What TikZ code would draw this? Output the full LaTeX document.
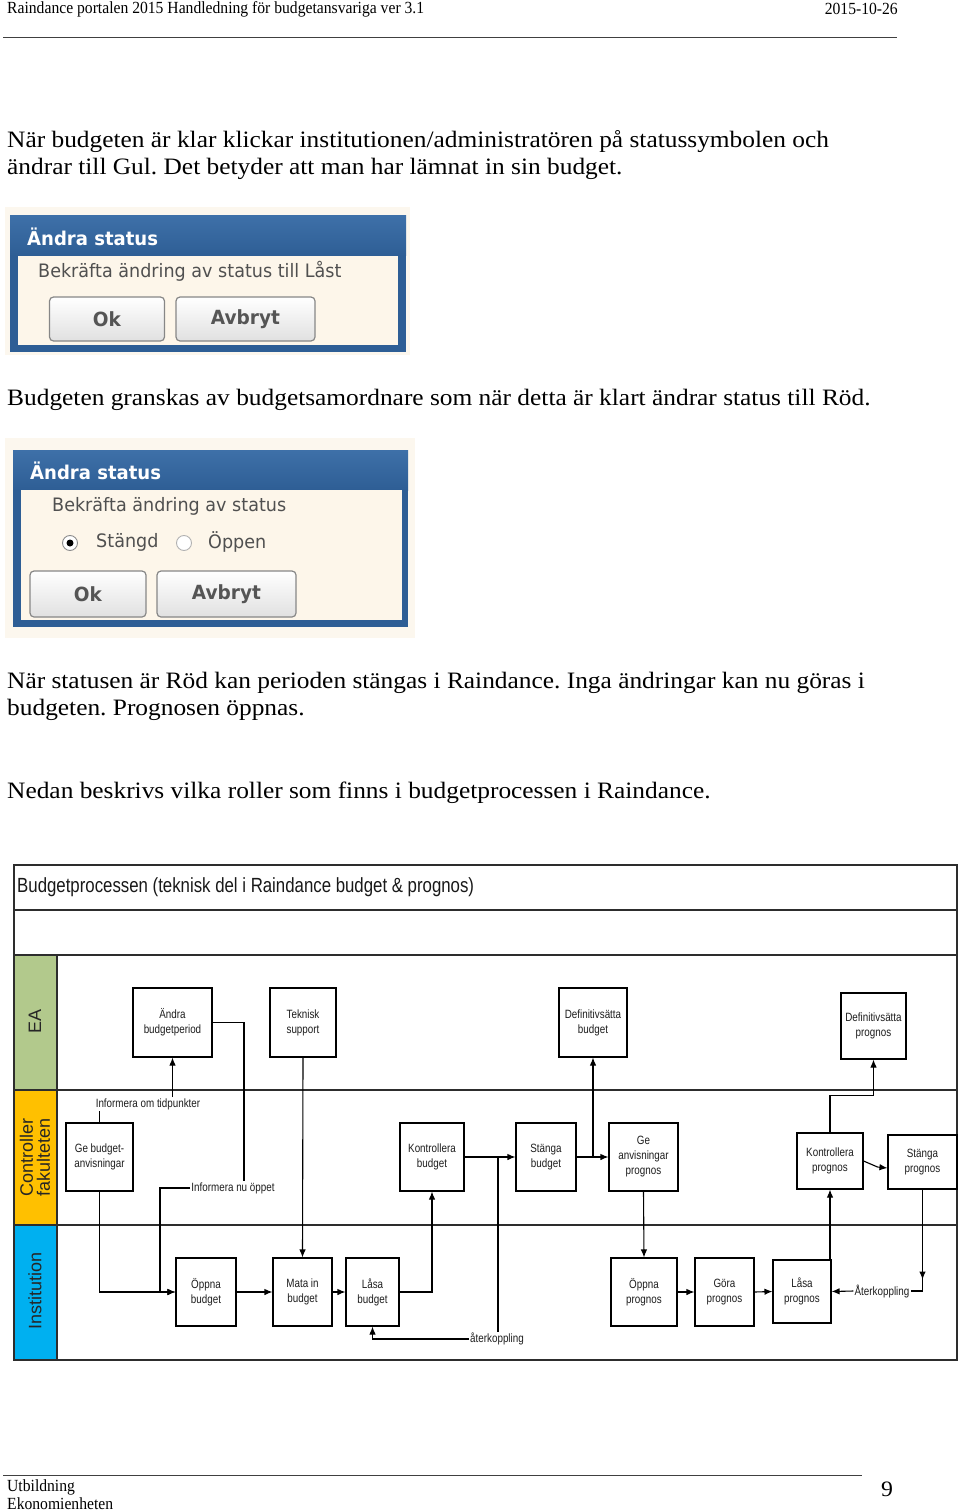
\documentclass[tikz,border=0pt]{standalone}
\usepackage{fontspec}
\setmainfont{Liberation Serif}
\newfontfamily\bodyserif[FakeStretch=1.08]{Liberation Serif}
\newfontfamily\hdrserif[FakeStretch=0.92]{Liberation Serif}
\newfontfamily\narrowsans[FakeStretch=0.82]{Liberation Sans}
\newfontfamily\lanesans{Liberation Sans}
\newfontfamily\dlgsans[FakeStretch=0.95]{DejaVu Sans}
\newfontfamily\dlgsansb[FakeStretch=0.95]{DejaVu Sans}
\usetikzlibrary{arrows.meta,calc}
\definecolor{dlgblue}{RGB}{46,94,149}
\definecolor{dlgblueL}{RGB}{62,112,168}
\definecolor{beige}{RGB}{253,246,234}
\definecolor{beigeout}{RGB}{252,247,238}
\definecolor{dlgtext}{RGB}{80,80,80}
\definecolor{btntext}{RGB}{85,85,85}
\definecolor{btnborder}{RGB}{135,135,135}
\definecolor{laneline}{RGB}{45,45,45}
\definecolor{eagreen}{RGB}{178,201,140}
\definecolor{ctlyellow}{RGB}{255,192,0}
\definecolor{instblue}{RGB}{0,176,240}
\definecolor{boxtext}{RGB}{30,30,30}
\tikzset{
  bodytxt/.style={anchor=west,inner sep=0pt,font=\bodyserif\fontsize{23.5}{27}\selectfont},
  box/.style={draw=black,line width=1.1pt,fill=white,inner sep=1pt,align=center,text=boxtext,font=\narrowsans\fontsize{12}{15}\selectfont},
  lbl/.style={fill=white,inner sep=1pt,text=boxtext,font=\narrowsans\fontsize{12}{15}\selectfont},
  conn/.style={draw=black,line width=1.1pt},
  arr/.style={-{Latex[length=8pt,width=6.5pt]}},
  lanebox/.style={draw=laneline,line width=1.4pt},
  lanetxt/.style={rotate=90,align=center,text=black!85,font=\lanesans\fontsize{18}{17}\selectfont},
  btn/.style={draw=btnborder,line width=1.2pt,rounded corners=4pt,top color=white,bottom color=black!12,text=btntext,font=\dlgsansb\bfseries\fontsize{19.5}{20}\selectfont},
  dlgtitle/.style={anchor=west,inner sep=0pt,text=white,font=\dlgsansb\bfseries\fontsize{19}{20}\selectfont},
  dlgline/.style={anchor=west,inner sep=0pt,text=dlgtext,font=\dlgsans\fontsize{18.5}{20}\selectfont},
  hdrtxt/.style={inner sep=0pt,font=\hdrserif\fontsize{17}{17}\selectfont}
}
\begin{document}
\frenchspacing
\begin{tikzpicture}[x=1pt,y=-1pt]
\useasboundingbox[fill=white] (0,0) rectangle (960,1511);

% header
\node[hdrtxt,anchor=west] (hdr) at (7,9) {Raindance portalen 2015 Handledning för budgetansvariga ver 3.1};
\node[hdrtxt,anchor=east] (hdate) at (898,9) {2015-10-26};
\draw[line width=1pt,black!75] (3,38) -- (897,38);

% paragraphs
\node[bodytxt] (p1) at (7,142) {När budgeten är klar klickar institutionen/administratören på statussymbolen och};
\node[bodytxt] (p2) at (7,169) {ändrar till Gul. Det betyder att man har lämnat in sin budget.};
\node[bodytxt] (p3) at (7,400) {Budgeten granskas av budgetsamordnare som när detta är klart ändrar status till Röd.};
\node[bodytxt] (p4) at (7,683) {När statusen är Röd kan perioden stängas i Raindance. Inga ändringar kan nu göras i};
\node[bodytxt] (p5) at (7,710) {budgeten. Prognosen öppnas.};
\node[bodytxt] (p6) at (7,793) {Nedan beskrivs vilka roller som finns i budgetprocessen i Raindance.};

% dialog 1
\fill[beigeout] (5,207) rectangle (410,355);
\fill[top color=dlgblueL,bottom color=dlgblue] (10,216) rectangle (406,256);
\fill[dlgblue] (10,256) rectangle (406,352);
\fill[beige] (18,256) rectangle (398,345);
\node[dlgtitle] (d1t) at (27,237) {Ändra status};
\node[dlgline] (d1l) at (38,271) {Bekräfta ändring av status till Låst};
\node[btn,minimum width=115pt,minimum height=44pt] (d1ok) at (107,319) {Ok};
\node[btn,minimum width=139pt,minimum height=44pt] (d1av) at (245.5,319) {Avbryt};

% dialog 2
\fill[beigeout] (5,438) rectangle (415,638);
\fill[top color=dlgblueL,bottom color=dlgblue] (13,450) rectangle (408,490);
\fill[dlgblue] (13,490) rectangle (408,627);
\fill[beige] (21,490) rectangle (402,620);
\node[dlgtitle] (d2t) at (30,471) {Ändra status};
\node[dlgline] (d2l) at (52,506) {Bekräfta ändring av status};
\draw[draw=black!45,fill=white,line width=0.9pt] (70,543) circle (7.5pt);
\fill[black] (70,543) circle (3.5pt);
\node[dlgline] (d2s) at (96,542) {Stängd};
\draw[draw=black!30,fill=white,line width=0.9pt] (184,543) circle (7.5pt);
\node[dlgline] (d2o) at (208,542) {Öppen};
\node[btn,minimum width=116pt,minimum height=46pt] (d2ok) at (88,594) {Ok};
\node[btn,minimum width=139pt,minimum height=46pt] (d2av) at (226.5,594) {Avbryt};

% swimlane frame
\fill[eagreen] (14,955) rectangle (57,1090);
\fill[ctlyellow] (14,1090) rectangle (57,1225);
\fill[instblue] (14,1225) rectangle (57,1360);
\draw[lanebox] (14,865) rectangle (957,1360);
\draw[lanebox] (14,910) -- (957,910);
\draw[lanebox] (14,955) -- (957,955);
\draw[lanebox] (14,1090) -- (957,1090);
\draw[lanebox] (14,1225) -- (957,1225);
\draw[lanebox] (57,955) -- (57,1360);
\node[anchor=west,inner sep=0pt,text=black!90,font=\narrowsans\fontsize{20.5}{22}\selectfont] (title) at (17,887) {Budgetprocessen (teknisk del i Raindance budget \& prognos)};
\node[lanetxt] (lea) at (35,1021) {EA};
\node[lanetxt] (lctl) at (35,1157) {Controller\\fakulteten};
\node[lanetxt] (linst) at (35,1291) {Institution};

% boxes
\node[box,minimum width=79pt,minimum height=69pt] (andra) at (172.5,1022.5) {Ändra\\budgetperiod};
\node[box,minimum width=66pt,minimum height=69pt] (teknisk) at (303,1022.5) {Teknisk\\support};
\node[box,minimum width=68pt,minimum height=69pt] (defbud) at (593,1022.5) {Definitivsätta\\budget};
\node[box,minimum width=65pt,minimum height=66pt] (defprog) at (873.5,1026) {Definitivsätta\\prognos};
\node[box,minimum width=67pt,minimum height=68pt] (gebud) at (99.5,1157) {Ge budget-\\anvisningar};
\node[box,minimum width=64pt,minimum height=68pt] (kontbud) at (432,1157) {Kontrollera\\budget};
\node[box,minimum width=60pt,minimum height=68pt] (stangbud) at (546,1157) {Stänga\\budget};
\node[box,minimum width=69pt,minimum height=68pt] (geprog) at (643.5,1157) {Ge\\anvisningar\\prognos};
\node[box,minimum width=66pt,minimum height=56pt] (kontprog) at (830,1161) {Kontrollera\\prognos};
\node[box,minimum width=69pt,minimum height=54pt] (stangprog) at (922.5,1162) {Stänga\\prognos};
\node[box,minimum width=60pt,minimum height=68pt] (oppbud) at (206,1292) {Öppna\\budget};
\node[box,minimum width=59pt,minimum height=68pt] (matabud) at (302.5,1292) {Mata in\\budget};
\node[box,minimum width=53pt,minimum height=68pt] (lasbud) at (372.5,1292) {Låsa\\budget};
\node[box,minimum width=66pt,minimum height=68pt] (oppprog) at (644,1292) {Öppna\\prognos};
\node[box,minimum width=59pt,minimum height=68pt] (goraprog) at (724.5,1292) {Göra\\prognos};
\node[box,minimum width=58pt,minimum height=63pt] (lasprog) at (802,1291.5) {Låsa\\prognos};

% labels
\node[lbl] (lbl1) at (148,1104) {Informera om tidpunkter};
\node[lbl] (lbl2) at (233,1188) {Informera nu öppet};
\node[lbl] (lbl3) at (497,1339) {återkoppling};
\node[lbl] (lbl4) at (882,1291) {Återkoppling};

\coordinate (j1) at (244,1000);
\coordinate (j2) at (160,1000);
\coordinate (j3) at (498,1157);
\coordinate (j4) at (593,1157);

% connectors
\draw[conn] (gebud.north) -- (gebud.north |- lbl1.south);
\draw[conn,arr] (lbl1.north -| andra.south) -- (andra.south);
\draw[conn] (andra.east) -| (lbl2.north -| j1);
\draw[conn,arr] (lbl2.west) -| (j2 |- oppbud.west) -- (oppbud.west);
\draw[conn,arr] (gebud.south) |- (oppbud.west);
\draw[conn,arr] (teknisk.south) -- (matabud.north);
\draw[conn,arr] (oppbud.east) -- (matabud.west);
\draw[conn,arr] (matabud.east) -- (lasbud.west);
\draw[conn,arr] (lasbud.east) -| (kontbud.south);
\draw[conn,arr] (kontbud.east) -- (stangbud.west);
\draw[conn] (j3) -- (j3 |- lbl3.north);
\draw[conn,arr] (lbl3.west) -| (lasbud.south);
\draw[conn,arr] (stangbud.east) -- (geprog.west);
\draw[conn,line width=2pt] (stangbud.east) -- (j4);
\draw[conn,arr] (j4) -- (defbud.south);
\draw[conn,arr] (geprog.south) -- (oppprog.north);
\draw[conn,arr] (oppprog.east) -- (goraprog.west);
\draw[conn,arr] (goraprog.east) -- (lasprog.west);
\draw[conn,arr] (kontprog.south |- lasprog.north) -- (kontprog.south);
\draw[conn,arr] (kontprog.north) -- ++(0,-37) -| (defprog.south);
\draw[conn,arr] (kontprog.east) -- ++(14,6) -- ($(stangprog.west)+(0,6)$);
\draw[conn] (stangprog.south) |- (lbl4.east);
\draw[conn,arr] (stangprog.south) -- ++(0,90);
\draw[conn,arr] (lbl4.west) -- (lasprog.east);

% footer
\draw[line width=1pt,black!75] (3,1475) -- (862,1475);
\node[hdrtxt,anchor=west] (f1) at (7,1487) {Utbildning};
\node[hdrtxt,anchor=west] (f2) at (7,1504) {Ekonomienheten};
\node[inner sep=0pt,font=\bodyserif\fontsize{22}{22}\selectfont] (pg) at (887,1489) {9};
\end{tikzpicture}
\end{document}
